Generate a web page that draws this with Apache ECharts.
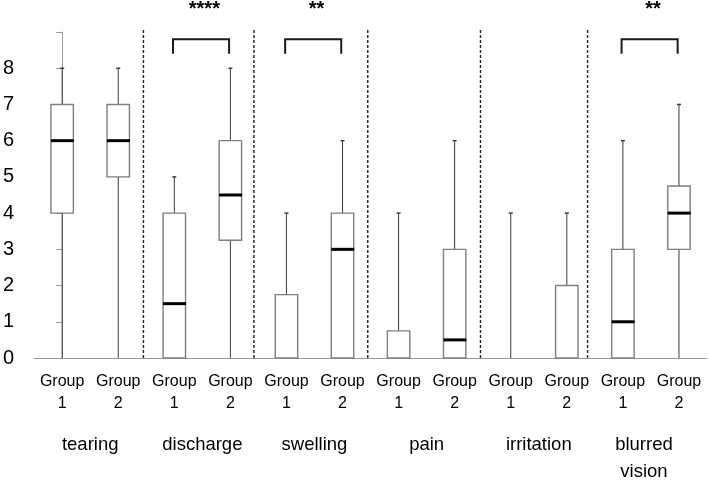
<!DOCTYPE html>
<html>
<head>
<meta charset="utf-8">
<script src="https://cdn.jsdelivr.net/npm/echarts@6/dist/echarts.min.js"></script>
<style>
  html, body { margin: 0; padding: 0; background: #fff; }
  #chart { width: 709px; height: 485px; }
</style>
</head>
<body>
<div id="chart"></div>
<script>
// ---- data ----
const groupLabels = ['Group\n1', 'Group\n2', 'Group\n1', 'Group\n2', 'Group\n1', 'Group\n2',
                     'Group\n1', 'Group\n2', 'Group\n1', 'Group\n2', 'Group\n1', 'Group\n2'];
const symptoms = ['tearing', 'discharge', 'swelling', 'pain', 'irritation', 'blurred\nvision'];
const minVals    = [0, 0, 0, 0,    0,    0, 0,    0,   0, 0, 0, 0];
const q1Vals     = [4, 5, 0, 3.25, 0,    0, 0,    0,   0, 0, 0, 3];
const medianVals = [6, 6, 1.5, 4.5, 0,   3, 0,    0.5, 0, 0, 1, 4];
const q3Vals     = [7, 7, 4, 6,    1.75, 4, 0.75, 3,   0, 2, 3, 4.75];
const maxVals    = [8, 8, 5, 8,    4,    6, 4,    6,   4, 4, 6, 7];
const yMin = 0, yMax = 9, yInterval = 1;
// separators between symptom groups (in category-index units)
const dividerPositions = [1.45, 3.42, 5.45, 7.46, 9.37];
// significance brackets: [first box index, second box index, stars]
const bracketFrom  = [2, 4, 10];
const bracketTo    = [3, 5, 11];
const bracketStars = ['****', '**', '**'];
const bracketTopLevel = 8.8, bracketLegLevel = 8.4, starLevel = 9.62;

const FONT = '"Liberation Sans", Arial, sans-serif';

const boxData = groupLabels.map((_, i) => [i, minVals[i], q1Vals[i], medianVals[i], q3Vals[i], maxVals[i]]);

function renderBox(params, api) {
  const x = api.value(0);
  const mn = api.value(1), q1 = api.value(2), md = api.value(3), q3 = api.value(4), mx = api.value(5);
  const w = api.size([1, 0])[0] * 0.4;
  const pMin = api.coord([x, mn]), pQ1 = api.coord([x, q1]), pMd = api.coord([x, md]);
  const pQ3 = api.coord([x, q3]), pMax = api.coord([x, mx]);
  const cx = pMin[0];
  const children = [];
  const whisk = { stroke: '#3a3a3a', lineWidth: 1 };
  if (q1 > mn) children.push({ type: 'line', shape: { x1: cx, y1: pMin[1], x2: cx, y2: pQ1[1] }, style: whisk });
  if (mx > q3) {
    children.push({ type: 'line', shape: { x1: cx, y1: pQ3[1], x2: cx, y2: pMax[1] }, style: whisk });
    children.push({ type: 'line', shape: { x1: cx - 2, y1: pMax[1], x2: cx + 2, y2: pMax[1] }, style: { stroke: '#3a3a3a', lineWidth: 1.5 } });
  }
  if (q3 > q1) {
    children.push({ type: 'rect', shape: { x: cx - w / 2, y: pQ3[1], width: w, height: pQ1[1] - pQ3[1] },
      style: { fill: '#fff', stroke: '#7f7f7f', lineWidth: 1.4 } });
  }
  if (md > q1) {
    children.push({ type: 'line', shape: { x1: cx - w / 2, y1: pMd[1], x2: cx + w / 2 + 0.5, y2: pMd[1] },
      style: { stroke: '#000', lineWidth: 3 } });
  }
  return { type: 'group', children };
}

function renderDivider(params, api) {
  const p0 = api.coord([api.value(0), 0]);
  const p1 = api.coord([api.value(0), 9.08]);
  return { type: 'line', shape: { x1: p0[0], y1: p0[1], x2: p1[0], y2: p1[1] },
    style: { stroke: '#222', lineWidth: 1.4, lineDash: [3, 2] } };
}

function renderBracket(params, api) {
  const a = api.value(0), b = api.value(1);
  const pa1 = api.coord([a, bracketLegLevel]), pa2 = api.coord([a, bracketTopLevel]);
  const pb1 = api.coord([b, bracketLegLevel]), pb2 = api.coord([b, bracketTopLevel]);
  const ps = api.coord([(a + b) / 2, starLevel]);
  const off = -1.3;
  return { type: 'group', children: [
    { type: 'polyline', shape: { points: [[pa1[0] + off, pa1[1]], [pa2[0] + off, pa2[1]], [pb2[0] + off, pb2[1]], [pb1[0] + off, pb1[1]]] },
      style: { stroke: '#1a1a1a', lineWidth: 2, fill: null } },
    { type: 'text', style: { text: bracketStars[params.dataIndex], x: ps[0] + 2, y: ps[1],
      align: 'center', verticalAlign: 'middle', fontSize: 20, fontWeight: 'bold', fontFamily: FONT, fill: '#000' } }
  ] };
}

const symptomAxisData = symptoms.map((s, i) =>
  i === symptoms.length - 1 ? { value: s, textStyle: { padding: [0, 14, 0, 0] } } : s);

const chart = echarts.init(document.getElementById('chart'), null, { renderer: 'canvas' });
chart.setOption({
  animation: false,
  backgroundColor: '#fff',
  grid: { left: 34, right: 2, top: 32, bottom: 122, containLabel: false },
  xAxis: [
    {
      type: 'category', data: groupLabels, position: 'bottom',
      axisLine: { show: true, lineStyle: { color: '#9a9a9a', width: 1 } },
      axisTick: { show: false },
      axisLabel: { interval: 0, margin: 12, fontSize: 16, lineHeight: 22.7, color: '#000', fontFamily: FONT },
      splitLine: { show: false }
    },
    {
      type: 'category', data: symptomAxisData, position: 'bottom', gridIndex: 0,
      axisLine: { show: false }, axisTick: { show: false },
      axisLabel: { interval: 0, margin: 73, fontSize: 18.5, lineHeight: 27, color: '#000', fontFamily: FONT },
      splitLine: { show: false }
    },
    { type: 'value', min: -0.5, max: 11.5, show: false, gridIndex: 0 }
  ],
  yAxis: {
    type: 'value', min: yMin, max: yMax, interval: yInterval,
    axisLine: { show: true, lineStyle: { color: '#9a9a9a', width: 1 } },
    axisTick: { show: true, inside: false, length: 6, lineStyle: { color: '#9a9a9a' } },
    axisLabel: { margin: 20, fontSize: 20, color: '#000', fontFamily: FONT,
      formatter: v => (v === yMax ? '' : String(v)) },
    splitLine: { show: false }
  },
  series: [
    { type: 'custom', name: 'dividers', xAxisIndex: 2, clip: false, z: 1,
      data: dividerPositions.map(p => [p]), renderItem: renderDivider, silent: true },
    { type: 'custom', name: 'boxes', xAxisIndex: 0, clip: false, z: 3,
      data: boxData, renderItem: renderBox, silent: true },
    { type: 'custom', name: 'brackets', xAxisIndex: 2, clip: false, z: 4,
      data: bracketFrom.map((f, i) => [f, bracketTo[i]]), renderItem: renderBracket, silent: true }
  ]
});
</script>
</body>
</html>
